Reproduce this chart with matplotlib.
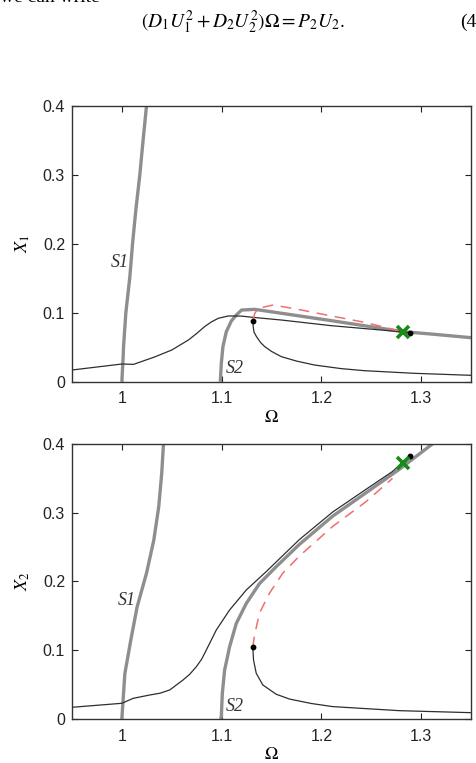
import matplotlib
matplotlib.use("Agg")
import matplotlib.pyplot as plt

plt.rcParams['mathtext.fontset'] = 'stix'
plt.rcParams['font.family'] = ['Liberation Sans', 'DejaVu Sans']

# ---- upper panel: X1 versus Omega ----
s1_top_w = [1.0, 1.0013, 1.0017, 1.004, 1.008, 1.0107, 1.014, 1.018, 1.0213, 1.0247]
s1_top_x = [0.0, 0.036, 0.051, 0.1, 0.152, 0.2, 0.249, 0.3, 0.3506, 0.4]

s2_top_w = [1.0987, 1.0997, 1.1013, 1.1047, 1.1097, 1.1147, 1.12, 1.1333, 1.16, 1.21,
            1.26, 1.2817, 1.31, 1.35]
s2_top_x = [0.0, 0.0266, 0.0508, 0.0725, 0.088, 0.0967, 0.104, 0.105, 0.0993, 0.0886,
            0.0775, 0.0726, 0.0692, 0.0639]

up_top_w = [0.95, 1.0, 1.0117, 1.033, 1.05, 1.0667, 1.075, 1.083, 1.09, 1.0967, 1.1067,
            1.12, 1.1313, 1.16, 1.21, 1.26, 1.289]
up_top_x = [0.017, 0.0257, 0.0252, 0.036, 0.046, 0.0605, 0.070, 0.080, 0.087, 0.092, 0.0954,
            0.0952, 0.0934, 0.0895, 0.0813, 0.075, 0.0711]

lo_top_w = [1.1313, 1.1317, 1.1325, 1.135, 1.139, 1.1433, 1.150, 1.16, 1.175, 1.1933,
            1.22, 1.2433, 1.2933, 1.35]
lo_top_x = [0.0885, 0.0798, 0.072, 0.0653, 0.057, 0.0508, 0.044, 0.0363, 0.030, 0.0242,
            0.019, 0.016, 0.0122, 0.0093]

un_top_w = [1.1313, 1.1333, 1.1367, 1.1517, 1.1767, 1.21, 1.2433, 1.2633, 1.2767]
un_top_x = [0.0885, 0.0993, 0.1065, 0.1113, 0.105, 0.0954, 0.0862, 0.079, 0.074]

fold_top_w = [1.1313, 1.289]
fold_top_x = [0.0885, 0.0711]
cross_top = (1.2817, 0.0726)

# ---- lower panel: X2 versus Omega ----
s1_bot_w = [1.0, 1.003, 1.009, 1.0153, 1.0247, 1.032, 1.037, 1.040, 1.0417]
s1_bot_x = [0.0, 0.066, 0.115, 0.163, 0.212, 0.260, 0.309, 0.358, 0.4]

s2_bot_w = [1.0987, 1.0997, 1.1007, 1.103, 1.108, 1.1147, 1.1247, 1.138, 1.1547,
            1.178, 1.2113, 1.2447, 1.278, 1.3113]
s2_bot_x = [0.0, 0.003, 0.037, 0.071, 0.105, 0.139, 0.168, 0.197, 0.2215,
            0.254, 0.295, 0.329, 0.363, 0.4]

up_bot_w = [0.95, 1.0, 1.0113, 1.028, 1.038, 1.048, 1.0613, 1.068, 1.0747, 1.08, 1.0847,
            1.0947, 1.108, 1.1247, 1.1447, 1.158, 1.178, 1.2113, 1.2447, 1.2713, 1.2887]
up_bot_x = [0.017, 0.0228, 0.030, 0.0349, 0.0374, 0.0422, 0.0567, 0.065, 0.0761, 0.087, 0.1004,
            0.1295, 0.1585, 0.1876, 0.2143, 0.233, 0.261, 0.301, 0.334, 0.360, 0.3825]

lo_bot_w = [1.1313, 1.132, 1.1347, 1.1413, 1.1547, 1.168, 1.19, 1.2113, 1.278, 1.3493]
lo_bot_x = [0.1043, 0.0858, 0.0665, 0.0495, 0.036, 0.029, 0.0225, 0.018, 0.0121, 0.0092]

un_bot_w = [1.1313, 1.133, 1.138, 1.148, 1.1613, 1.178, 1.2113, 1.2447, 1.2713]
un_bot_x = [0.1043, 0.122, 0.154, 0.183, 0.212, 0.237, 0.280, 0.316, 0.350]

fold_bot_w = [1.1313, 1.2887]
fold_bot_x = [0.1043, 0.3825]
cross_bot = (1.282, 0.3728)

xticks = [1, 1.1, 1.2, 1.3]
yticks = [0, 0.1, 0.2, 0.3, 0.4]

gray = '#8e8e8e'
dark = '#2e2e2e'
red = '#f26d6d'

fig = plt.figure(figsize=(4.77, 7.63), dpi=100)
ax1 = fig.add_axes([0.1509, 0.4997, 0.8365, 0.3614])
ax2 = fig.add_axes([0.1509, 0.0577, 0.8365, 0.3604])

panels = [
    (ax1, s1_top_w, s1_top_x, s2_top_w, s2_top_x, up_top_w, up_top_x, lo_top_w, lo_top_x,
     un_top_w, un_top_x, fold_top_w, fold_top_x, cross_top, r'$X_1$', (0.998, 0.173), (1.113, 0.019)),
    (ax2, s1_bot_w, s1_bot_x, s2_bot_w, s2_bot_x, up_bot_w, up_bot_x, lo_bot_w, lo_bot_x,
     un_bot_w, un_bot_x, fold_bot_w, fold_bot_x, cross_bot, r'$X_2$', (1.005, 0.173), (1.113, 0.018)),
]

for (ax, s1w, s1x, s2w, s2x, uw, ux, lw_, lx, rw, rx, fw, fx, cr, ylab, s1pos, s2pos) in panels:
    ax.plot(s1w, s1x, color=gray, lw=2.4, solid_capstyle='butt', zorder=2)
    ax.plot(s2w, s2x, color=gray, lw=2.4, solid_capstyle='butt', zorder=2)
    ax.plot(uw, ux, color=dark, lw=0.9, zorder=3)
    ax.plot(lw_, lx, color=dark, lw=0.9, zorder=3)
    ax.plot(rw, rx, color=red, lw=1.1, dashes=(7, 5), zorder=3)
    ax.plot(fw, fx, 'o', color='black', ms=3.2, zorder=5)
    ax.plot(cr[0], cr[1], 'x', color='#1a8a1a', ms=8, mew=2.6, zorder=6)

    ax.text(s1pos[0], s1pos[1], 'S1', fontsize=13, fontstyle='italic',
            family='Liberation Serif', color='#333333', ha='center', va='center')
    ax.text(s2pos[0], s2pos[1], 'S2', fontsize=13, fontstyle='italic',
            family='Liberation Serif', color='#333333', ha='center', va='center')

    ax.set_xlim(0.95, 1.35)
    ax.set_ylim(0, 0.4)
    ax.set_xticks(xticks)
    ax.set_xticklabels(['1', '1.1', '1.2', '1.3'])
    ax.set_yticks(yticks)
    ax.set_yticklabels(['0', '0.1', '0.2', '0.3', '0.4'])
    ax.tick_params(direction='in', top=True, right=True, length=4, width=0.8,
                   labelsize=11.5, colors='#222222')
    ax.tick_params(axis='x', pad=7)
    ax.tick_params(axis='y', pad=5)
    for sp in ax.spines.values():
        sp.set_color('#333333')
        sp.set_linewidth(1.0)
    ax.set_xlabel(r'$\Omega$', fontsize=13, labelpad=2)
    ax.set_ylabel(ylab, fontsize=13, labelpad=8)

fig.text(0.51, 1 - 22 / 763, r'$(D_1U_1^2+D_2U_2^2)\Omega = P_2U_2.$',
         fontsize=14, ha='center', va='center')
fig.text(0.965, 1 - 22 / 763, '(4', fontsize=14, family='Liberation Serif',
         ha='left', va='center')
fig.text(0.0, 1 - 2 / 763, 'we can write', fontsize=14, family='Liberation Serif',
         ha='left', va='baseline')

fig.savefig('out.png', dpi=100)
